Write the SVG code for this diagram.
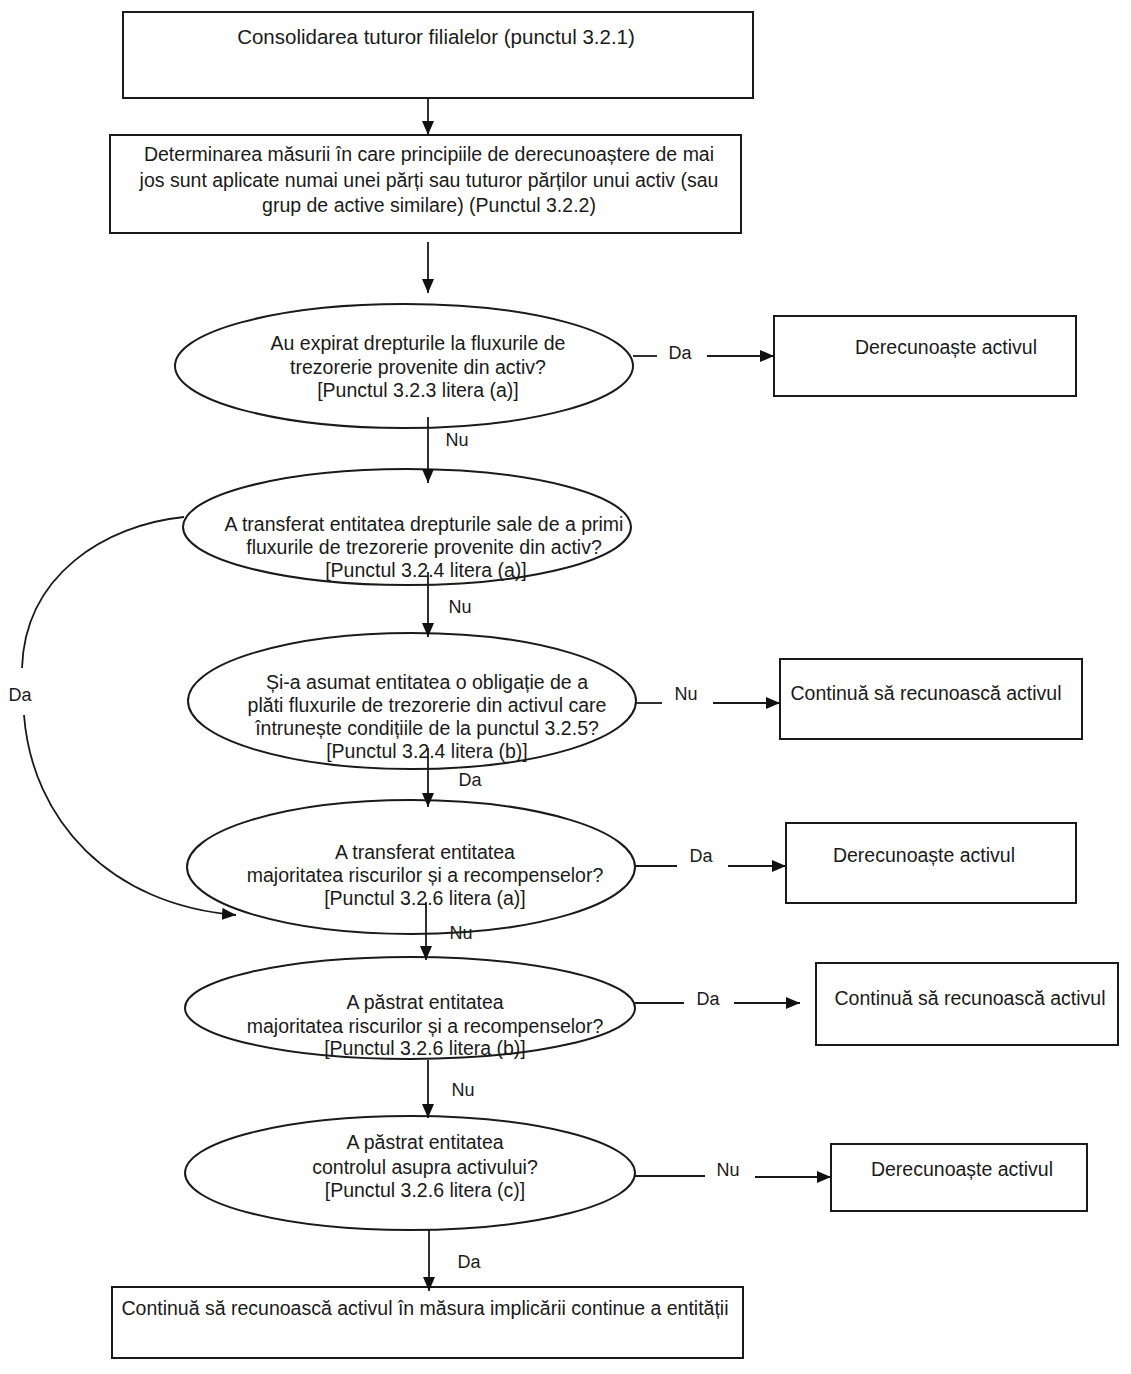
<svg xmlns="http://www.w3.org/2000/svg" width="1131" height="1374" viewBox="0 0 1131 1374">
<defs>
<marker id="ah" viewBox="0 0 14 12" refX="14" refY="6" markerWidth="14" markerHeight="12" markerUnits="userSpaceOnUse" orient="auto"><path d="M0,0 L14,6 L0,12 z" fill="#111"/></marker>
</defs>
<style>
.box{fill:#fff;stroke:#1a1a1a;stroke-width:2}
.dec{fill:#fff;stroke:#1a1a1a;stroke-width:2}
.t{font-family:"Liberation Sans",Arial,sans-serif;font-size:19.5px;fill:#1a1a1a;text-anchor:middle}
.l{font-family:"Liberation Sans",Arial,sans-serif;font-size:18px;fill:#1a1a1a;text-anchor:middle}
.c{fill:none;stroke:#1a1a1a;stroke-width:1.8}
</style>
<rect width="1131" height="1374" fill="#fff"/>
<g id="n1"><rect class="box" x="123" y="12" width="630" height="86"/><text class="t" x="436" y="44" style="font-size:20.5px">Consolidarea tuturor filialelor (punctul 3.2.1)</text></g>
<g id="n2"><rect class="box" x="110" y="135" width="631" height="98"/>
<text class="t" x="429" y="161">Determinarea măsurii în care principiile de derecunoaștere de mai</text>
<text class="t" x="429" y="187">jos sunt aplicate numai unei părți sau tuturor părților unui activ (sau</text>
<text class="t" x="429" y="212">grup de active similare) (Punctul 3.2.2)</text></g>
<g id="e1"><ellipse class="dec" cx="404" cy="366" rx="229" ry="62"/>
<text class="t" x="418" y="350">Au expirat drepturile la fluxurile de</text>
<text class="t" x="418" y="374">trezorerie provenite din activ?</text>
<text class="t" x="418" y="397">[Punctul 3.2.3 litera (a)]</text></g>
<g id="d1"><rect class="box" x="774" y="316" width="302" height="80"/><text class="t" x="946" y="354">Derecunoaște activul</text></g>
<g id="e2"><ellipse class="dec" cx="407" cy="527" rx="224" ry="58"/>
<text class="t" x="424" y="531">A transferat entitatea drepturile sale de a primi</text>
<text class="t" x="424" y="554">fluxurile de trezorerie provenite din activ?</text>
<text class="t" x="426" y="577">[Punctul 3.2.4 litera (a)]</text></g>
<g id="e3"><ellipse class="dec" cx="412" cy="701" rx="224" ry="68"/>
<text class="t" x="427" y="689">Și-a asumat entitatea o obligație de a</text>
<text class="t" x="427" y="712">plăti fluxurile de trezorerie din activul care</text>
<text class="t" x="427" y="735">întrunește condițiile de la punctul 3.2.5?</text>
<text class="t" x="427" y="758">[Punctul 3.2.4 litera (b)]</text></g>
<g id="c1"><rect class="box" x="780" y="659" width="302" height="80"/><text class="t" x="926" y="700">Continuă să recunoască activul</text></g>
<g id="e4"><ellipse class="dec" cx="411" cy="867" rx="224" ry="67"/>
<text class="t" x="425" y="859">A transferat entitatea</text>
<text class="t" x="425" y="882">majoritatea riscurilor și a recompenselor?</text>
<text class="t" x="425" y="905">[Punctul 3.2.6 litera (a)]</text></g>
<g id="d2"><rect class="box" x="786" y="823" width="290" height="80"/><text class="t" x="924" y="862">Derecunoaște activul</text></g>
<g id="e5"><ellipse class="dec" cx="410" cy="1008" rx="225" ry="51"/>
<text class="t" x="425" y="1009">A păstrat entitatea</text>
<text class="t" x="425" y="1033">majoritatea riscurilor și a recompenselor?</text>
<text class="t" x="425" y="1055">[Punctul 3.2.6 litera (b)]</text></g>
<g id="c2"><rect class="box" x="816" y="963" width="302" height="82"/><text class="t" x="970" y="1005">Continuă să recunoască activul</text></g>
<g id="e6"><ellipse class="dec" cx="410" cy="1173" rx="225" ry="57"/>
<text class="t" x="425" y="1149">A păstrat entitatea</text>
<text class="t" x="425" y="1174">controlul asupra activului?</text>
<text class="t" x="425" y="1197">[Punctul 3.2.6 litera (c)]</text></g>
<g id="d3"><rect class="box" x="831" y="1144" width="256" height="67"/><text class="t" x="962" y="1176">Derecunoaște activul</text></g>
<g id="n3"><rect class="box" x="112" y="1287" width="631" height="71"/><text class="t" x="425" y="1315">Continuă să recunoască activul în măsura implicării continue a entității</text></g>
<g id="connectors">
<line class="c" x1="428" y1="98" x2="428" y2="135" marker-end="url(#ah)"/>
<line class="c" x1="428" y1="242" x2="428" y2="293" marker-end="url(#ah)"/>
<line class="c" x1="428" y1="417" x2="428" y2="483" marker-end="url(#ah)"/>
<text class="l" x="457" y="446">Nu</text>
<line class="c" x1="428" y1="572" x2="428" y2="637" marker-end="url(#ah)"/>
<text class="l" x="460" y="613">Nu</text>
<line class="c" x1="428" y1="748" x2="428" y2="807" marker-end="url(#ah)"/>
<text class="l" x="470" y="786">Da</text>
<line class="c" x1="426" y1="902" x2="426" y2="960" marker-end="url(#ah)"/>
<text class="l" x="461" y="939">Nu</text>
<line class="c" x1="428" y1="1060" x2="428" y2="1118" marker-end="url(#ah)"/>
<text class="l" x="463" y="1096">Nu</text>
<line class="c" x1="429" y1="1230" x2="429" y2="1291" marker-end="url(#ah)"/>
<text class="l" x="469" y="1268">Da</text>
<line class="c" x1="633" y1="356" x2="657" y2="356"/>
<text class="l" x="680" y="359">Da</text>
<line class="c" x1="707" y1="356" x2="774" y2="356" marker-end="url(#ah)"/>
<line class="c" x1="636" y1="703" x2="662" y2="703"/>
<text class="l" x="686" y="700">Nu</text>
<line class="c" x1="713" y1="703" x2="780" y2="703" marker-end="url(#ah)"/>
<line class="c" x1="635" y1="866" x2="677" y2="866"/>
<text class="l" x="701" y="862">Da</text>
<line class="c" x1="728" y1="866" x2="786" y2="866" marker-end="url(#ah)"/>
<line class="c" x1="635" y1="1003" x2="684" y2="1003"/>
<text class="l" x="708" y="1005">Da</text>
<line class="c" x1="734" y1="1003" x2="800" y2="1003" marker-end="url(#ah)"/>
<line class="c" x1="635" y1="1176" x2="705" y2="1176"/>
<text class="l" x="728" y="1176">Nu</text>
<line class="c" x1="755" y1="1177" x2="831" y2="1177" marker-end="url(#ah)"/>
<path class="c" d="M184,517 C105,525 25,575 22,668"/>
<text class="l" x="20" y="701">Da</text>
<path class="c" d="M24,715 C32,820 110,905 236,915" marker-end="url(#ah)"/>
</g>
</svg>
